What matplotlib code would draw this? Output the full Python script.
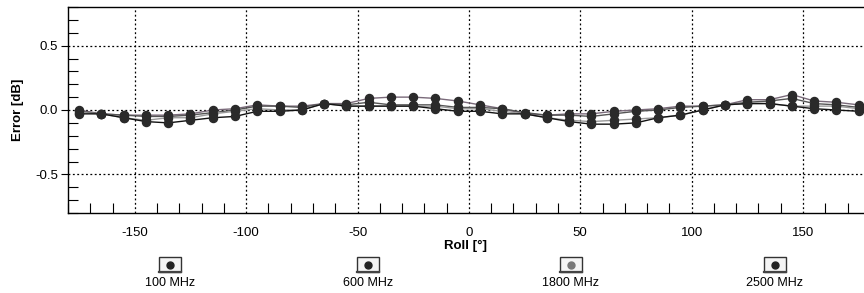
import matplotlib.pyplot as plt
from matplotlib.patches import Rectangle
from matplotlib.ticker import MultipleLocator

plt.rcParams['font.family'] = ['Liberation Sans', 'DejaVu Sans']
plt.rcParams['axes.unicode_minus'] = False

roll = [-175, -165, -155, -145, -135, -125, -115, -105, -95, -85, -75, -65,
        -55, -45, -35, -25, -15, -5, 5, 15, 25, 35, 45, 55,
        65, 75, 85, 95, 105, 115, 125, 135, 145, 155, 165, 175]

err_100 = [0.00, -0.03, -0.04, -0.04, -0.04, -0.03, 0.00, 0.01, 0.04, 0.03, 0.03, 0.05,
           0.05, 0.09, 0.10, 0.10, 0.09, 0.07, 0.04, 0.01, -0.03, -0.04, -0.03, -0.03,
           -0.01, 0.00, 0.01, 0.03, 0.03, 0.04, 0.08, 0.08, 0.12, 0.07, 0.06, 0.04]
err_600 = [-0.01, -0.03, -0.04, -0.05, -0.05, -0.04, -0.02, 0.00, 0.03, 0.03, 0.02, 0.05,
           0.04, 0.06, 0.04, 0.04, 0.04, 0.02, 0.02, 0.01, -0.02, -0.04, -0.04, -0.05,
           -0.03, -0.01, 0.00, 0.02, 0.03, 0.04, 0.06, 0.07, 0.09, 0.05, 0.04, 0.02]
err_1800 = [-0.02, -0.03, -0.06, -0.08, -0.06, -0.06, -0.03, -0.01, 0.01, 0.00, 0.00, 0.05,
            0.03, 0.03, 0.03, 0.03, 0.03, 0.01, 0.01, -0.01, -0.03, -0.06, -0.08, -0.09,
            -0.08, -0.07, -0.06, -0.04, 0.00, 0.04, 0.05, 0.05, 0.03, 0.03, 0.03, 0.01]
err_2500 = [-0.03, -0.03, -0.06, -0.09, -0.10, -0.08, -0.06, -0.05, -0.01, -0.01, 0.00, 0.05,
            0.03, 0.03, 0.03, 0.03, 0.01, -0.01, -0.01, -0.03, -0.03, -0.06, -0.09, -0.11,
            -0.11, -0.10, -0.06, -0.04, 0.00, 0.04, 0.05, 0.05, 0.03, 0.01, 0.00, -0.01]

series = [('100 MHz', err_100, '#7a6a7a', '#222222'),
          ('600 MHz', err_600, '#555555', '#222222'),
          ('1800 MHz', err_1800, '#999999', '#777777'),
          ('2500 MHz', err_2500, '#111111', '#222222')]

fig = plt.figure(figsize=(8.64, 2.93), dpi=100)
ax = fig.add_axes([68 / 864, 1 - 213 / 293, 1 - 68 / 864, (213 - 7) / 293])

for name, vals, lc, mc in series:
    ax.plot(roll, vals, color=lc, lw=1.0, marker='o', ms=5.8,
            mfc='#2a2a2a', mec='#2a2a2a', label=name)

ax.set_xlim(-180, 177.4)
ax.set_ylim(-0.8, 0.8)
ax.set_xticks([-150, -100, -50, 0, 50, 100, 150])
ax.set_yticks([-0.5, 0.0, 0.5])
ax.set_yticklabels(['-0.5', '0.0', '0.5'])
ax.xaxis.set_minor_locator(MultipleLocator(10))
ax.yaxis.set_minor_locator(MultipleLocator(0.1))
ax.tick_params(axis='both', which='major', labelsize=9.5, direction='out', length=5, width=0.8,
               pad=2)
ax.tick_params(axis='x', which='major', length=0, pad=10)
ax.tick_params(axis='both', which='minor', direction='in', length=7, width=0.8)
ax.grid(True, which='major', color='black', linestyle=(0, (1.5, 2)), linewidth=0.9)
ax.spines['right'].set_visible(False)
for s in ['left', 'bottom', 'top']:
    ax.spines[s].set_linewidth(1.0)

ax.set_xlabel('Roll [°]', fontsize=9.5, fontweight='bold', labelpad=1)
ax.set_ylabel('Error [dB]', fontsize=9.5, fontweight='bold', labelpad=8)

# legend row below the axes
legend_x = [170, 368, 571, 775]
for (name, vals, lc, mc), px in zip(series, legend_x):
    fx = px / 864
    box = Rectangle((fx - 11 / 864, 1 - 272 / 293), 22 / 864, 15 / 293,
                    transform=fig.transFigure, facecolor='#f4f4f4',
                    edgecolor='#333333', lw=1.0)
    fig.add_artist(box)
    fig.add_artist(plt.Line2D([fx - 11 / 864, fx + 11 / 864], [1 - 272 / 293] * 2,
                              transform=fig.transFigure, color='#444444', lw=1.6))
    fig.add_artist(plt.Line2D([fx], [1 - 264.5 / 293], transform=fig.transFigure,
                              marker='o', ms=5, mfc=mc, mec=mc, ls='none'))
    fig.text(fx, 1 - 283 / 293, name, ha='center', va='center', fontsize=9)

fig.savefig('out.png', dpi=100)
